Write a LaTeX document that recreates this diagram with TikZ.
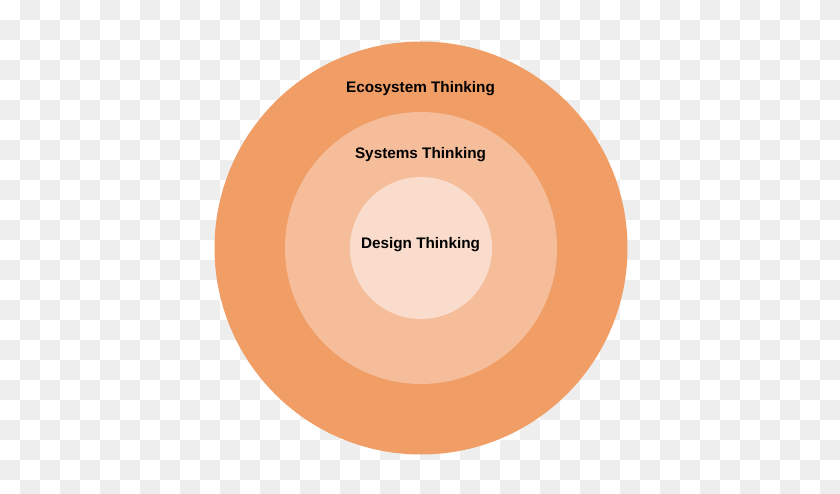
\documentclass[tikz,border=0pt]{standalone}
\usepackage{fontspec}
\setmainfont{Liberation Sans}
\usetikzlibrary{positioning}
\definecolor{ecoorange}{HTML}{F09E66}
\definecolor{sysorange}{HTML}{F5BD99}
\definecolor{designorange}{HTML}{F9DCCB}
\definecolor{checkgrey}{HTML}{EEEEEE}

\begin{document}
\begin{tikzpicture}[x=1pt,y=-1pt,
	ring/.style={circle,draw=none,inner sep=0pt},
	thinking/.style={anchor=base,font=\fontsize{15.3}{18}\selectfont\bfseries,text=black,inner sep=0pt}]
	%FOND
	\useasboundingbox (0,0) rectangle (840,494);
	\begin{scope}
	\clip (0,0) rectangle (840,494);
	\fill[white] (0,0) rectangle (840,494);
	\foreach \i in {0,...,41}
	  \foreach \j in {0,...,24}
	    {\ifodd\numexpr\i+\j\relax
	      \fill[checkgrey] (20*\i,20*\j) rectangle +(20,20);
	     \fi}
	\end{scope}
	
	%CERCLES
	\node[ring,fill=ecoorange,minimum size=413pt] (eco) at (421,248) {};
	\node[ring,fill=sysorange,minimum size=272pt] (sys) at (421,248) {};
	\node[ring,fill=designorange,minimum size=142pt] (design) at (421,248) {};
	
	%TEXTES
	\node[thinking] (ecolabel) at (420.5,93) {Ecosystem Thinking};
	\node[thinking] (syslabel) at (420.5,159) {Systems Thinking};
	\node[thinking] (designlabel) at (420.5,248) {Design Thinking};
\end{tikzpicture}
\end{document}
